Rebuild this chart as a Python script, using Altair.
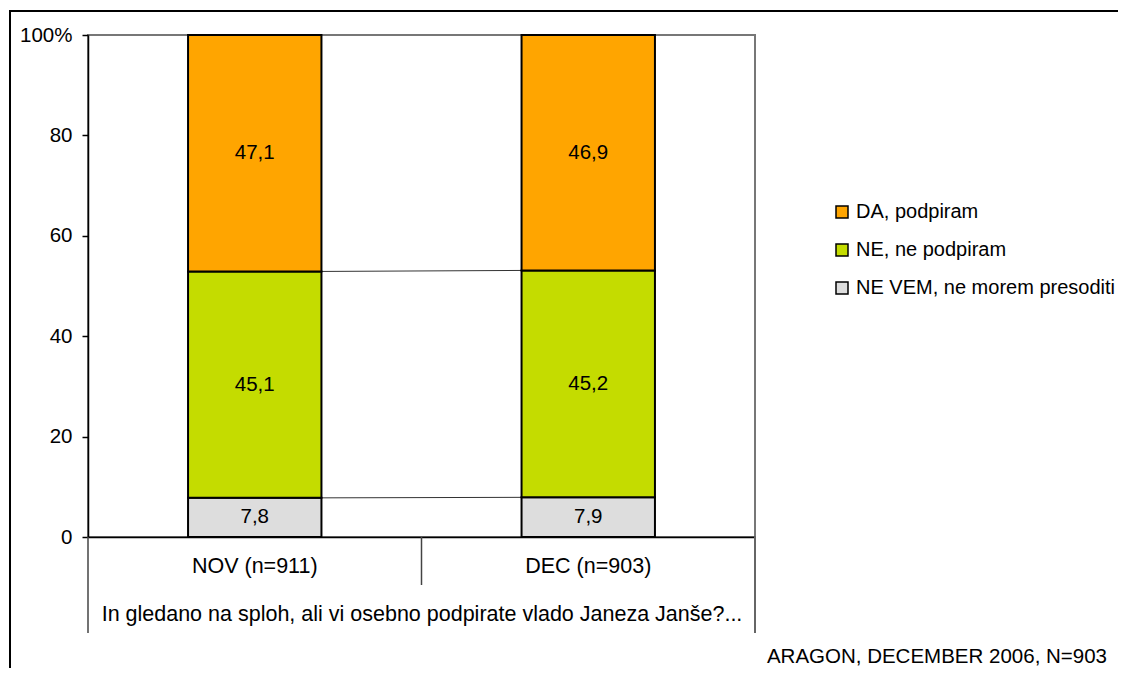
import altair as alt
import pandas as pd

F = "Liberation Sans"

categories = ["NOV (n=911)", "DEC (n=903)"]
series = ["DA, podpiram", "NE, ne podpiram", "NE VEM, ne morem presoditi"]
colors = ["#FFA500", "#C4DC00", "#DDDDDD"]
da_values = [47.1, 46.9]
ne_values = [45.1, 45.2]
nevem_values = [7.8, 7.9]
y_ticks = [0, 20, 40, 60, 80, 100]
question = "In gledano na sploh, ali vi osebno podpirate vlado Janeza Janše?..."
source_note = "ARAGON, DECEMBER 2006, N=903"

# bottom-to-top stacking order
stack_series = [
    ("NE VEM, ne morem presoditi", nevem_values),
    ("NE, ne podpiram", ne_values),
    ("DA, podpiram", da_values),
]

rows = []
for order, (name, vals) in enumerate(stack_series):
    for cat, v in zip(categories, vals):
        rows.append({"cat": cat, "series": name, "value": v, "ord": order})
df = pd.DataFrame(rows)

# series lines between the two bars (cumulative tops of lower segments)
line_rows = []
cum = [0.0, 0.0]
for name, vals in stack_series[:-1]:
    cum = [cum[0] + vals[0], cum[1] + vals[1]]
    line_rows.append({"from": categories[0], "to": categories[1], "y": cum[0], "y2": cum[1]})
lines_df = pd.DataFrame(line_rows)

W, H = 667, 502
xscale = alt.Scale(domain=categories, paddingInner=0.6, paddingOuter=0.3)
yscale = alt.Scale(domain=[0, 100])

x_axis = alt.Axis(
    labelAngle=0, labelAlign="center", ticks=False, labelFontSize=21.5, labelFont=F,
    labelColor="black", labelPadding=29, domainColor="black", domainWidth=1.5,
    bandPosition=0.5,
    title=question, titleFontSize=21.5, titleFont=F, titleFontWeight="normal",
    titleColor="black", titleY=77, titleBaseline="middle",
)
y_axis = alt.Axis(
    values=y_ticks, labelExpr="datum.value == 100 ? '100%' : datum.label",
    labelFontSize=20.5, labelFont=F, labelColor="black", tickColor="black",
    tickSize=6, tickWidth=1.5, domainColor="black", domainWidth=1.5, grid=False,
    labelPadding=10, title=None,
)

bars = alt.Chart(df).mark_bar(stroke="black", strokeWidth=2).encode(
    x=alt.X("cat:N", sort=categories, scale=xscale, axis=x_axis),
    y=alt.Y("value:Q", stack="zero", scale=yscale, axis=y_axis),
    color=alt.Color(
        "series:N",
        scale=alt.Scale(domain=series, range=colors),
        legend=alt.Legend(
            orient="none", legendX=744, legendY=167, title=None,
            symbolType="square", symbolSize=144, symbolStrokeColor="black",
            symbolStrokeWidth=1.5, symbolOpacity=1, labelFontSize=20, labelFont=F,
            labelColor="black", rowPadding=18, labelOffset=4, padding=0,
            labelLimit=500,
        ),
    ),
    order=alt.Order("ord:Q", sort="ascending"),
)

labels = alt.Chart(df).transform_stack(
    stack="value", groupby=["cat"], sort=[alt.SortField("ord", order="ascending")],
    as_=["y0", "y1"],
).transform_calculate(
    mid="(datum.y0 + datum.y1) / 2",
    lab="replace(format(datum.value, '.1f'), '.', ',')",
).mark_text(fontSize=20.5, font=F, color="black").encode(
    x=alt.X("cat:N", sort=categories, scale=xscale),
    y=alt.Y("mid:Q", scale=yscale),
    text="lab:N",
)

series_lines = alt.Chart(lines_df).mark_rule(color="#333333", strokeWidth=1).encode(
    x=alt.X("from:N", sort=categories, scale=xscale, bandPosition=1),
    x2=alt.X2("to:N", bandPosition=0),
    y=alt.Y("y:Q", scale=yscale),
    y2="y2:Q",
)

one = alt.Data(values=[{"k": 1}])

outer_frame = alt.Chart(one).mark_rect(fillOpacity=0, stroke="black", strokeWidth=2).encode(
    x=alt.value(-78), x2=alt.value(1600), y=alt.value(-24), y2=alt.value(1600)
)
left_ext = alt.Chart(one).mark_rule(color="#444444", strokeWidth=1.5).encode(
    x=alt.value(0), y=alt.value(H), y2=alt.value(H + 96)
)
right_ext = alt.Chart(one).mark_rule(color="#666666", strokeWidth=2).encode(
    x=alt.value(W), y=alt.value(H), y2=alt.value(H + 96)
)
mid_sep = alt.Chart(one).mark_rule(color="#444444", strokeWidth=1.5).encode(
    x=alt.value(W / 2), y=alt.value(H), y2=alt.value(H + 48)
)
note = alt.Chart(one).mark_text(
    text=source_note, fontSize=20.5, font=F, color="black", align="right", baseline="middle"
).encode(x=alt.value(1019), y=alt.value(622))

chart = alt.layer(
    outer_frame, series_lines, bars, labels, left_ext, right_ext, mid_sep, note
).properties(
    width=W, height=H,
    autosize=alt.AutoSizeParams(type="none"),
    padding={"left": 80, "top": 27, "right": 363, "bottom": 131},
).configure_view(stroke="#777777", strokeWidth=2)

chart.save("out.html", embed_options={"renderer": "svg", "actions": False})
